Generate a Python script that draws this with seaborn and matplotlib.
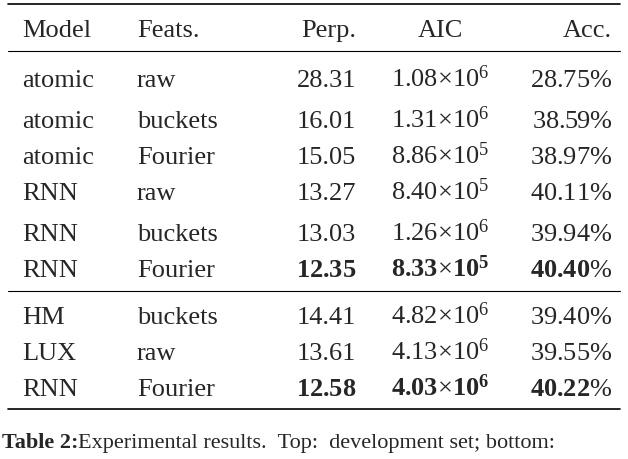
import matplotlib.pyplot as plt
import seaborn as sns

# table contents
models = ["atomic", "atomic", "atomic", "RNN", "RNN", "RNN", "HM", "LUX", "RNN"]
feats = ["raw", "buckets", "Fourier", "raw", "buckets", "Fourier", "buckets", "raw", "Fourier"]
perp = ["28.31", "16.01", "15.05", "13.27", "13.03", "12.35", "14.41", "13.61", "12.58"]
aic_mant = ["1.08", "1.31", "8.86", "8.40", "1.26", "8.33", "4.82", "4.13", "4.03"]
aic_exp = [6, 6, 5, 5, 6, 5, 6, 6, 6]
acc = ["28.75", "38.59", "38.97", "40.11", "39.94", "40.40", "39.40", "39.55", "40.22"]
best = [False, False, False, False, False, True, False, False, True]
headers = ["Model", "Feats.", "Perp.", "AIC", "Acc."]

sns.set_theme(style="white")
plt.rcParams['font.family'] = ['Liberation Serif', 'DejaVu Serif']
plt.rcParams['mathtext.fontset'] = 'custom'
plt.rcParams['mathtext.rm'] = 'Liberation Serif'
plt.rcParams['mathtext.it'] = 'Liberation Serif:italic'
plt.rcParams['mathtext.bf'] = 'Liberation Serif:bold'

fig = plt.figure(figsize=(6.28, 4.6), dpi=100)
ax = fig.add_axes([0, 0, 1, 1])
ax.set_xlim(0, 628)
ax.set_ylim(460, 0)
ax.axis("off")

fs = 19
row_y = [87, 128, 164, 200, 241, 277, 324, 360, 396]
col_x = [22, 137, 356, 440, 612]

# rules
for y, lw in [(5, 1.2), (52, 0.8), (292, 0.8), (410, 1.2)]:
    ax.plot([8, 620], [y, y], color="black", lw=lw)

hy = 37
ax.text(col_x[0], hy, headers[0], fontsize=fs, va="baseline", ha="left")
ax.text(col_x[1], hy, headers[1], fontsize=fs, va="baseline", ha="left")
ax.text(col_x[2], hy, headers[2], fontsize=fs, va="baseline", ha="right")
ax.text(col_x[3], hy, headers[3], fontsize=fs, va="baseline", ha="center")
ax.text(col_x[4], hy, headers[4], fontsize=fs, va="baseline", ha="right")

for i, y in enumerate(row_y):
    ax.text(col_x[0], y, models[i], fontsize=fs, va="baseline", ha="left")
    ax.text(col_x[1], y, feats[i], fontsize=fs, va="baseline", ha="left")
    if best[i]:
        p = r"$\mathbf{%s}$" % perp[i]
        a = r"$\mathbf{%s}{\times}\mathbf{10}^{\mathbf{%d}}$" % (aic_mant[i], aic_exp[i])
        c = r"$\mathbf{%s}\mathit{\%%}$" % acc[i]
    else:
        p = perp[i]
        a = r"$%s{\times}10^{%d}$" % (aic_mant[i], aic_exp[i])
        c = r"$%s\mathit{\%%}$" % acc[i]
    ax.text(col_x[2], y, p, fontsize=fs, va="baseline", ha="right")
    ax.text(col_x[3], y, a, fontsize=fs, va="baseline", ha="center")
    ax.text(col_x[4], y, c, fontsize=fs, va="baseline", ha="right")

ax.text(2, 448, "Table 2:", fontsize=16, fontweight="bold", va="baseline", ha="left")
ax.text(78, 448, "Experimental results.  Top:  development set; bottom:",
        fontsize=16, va="baseline", ha="left")

fig.savefig("out.png", dpi=100)
